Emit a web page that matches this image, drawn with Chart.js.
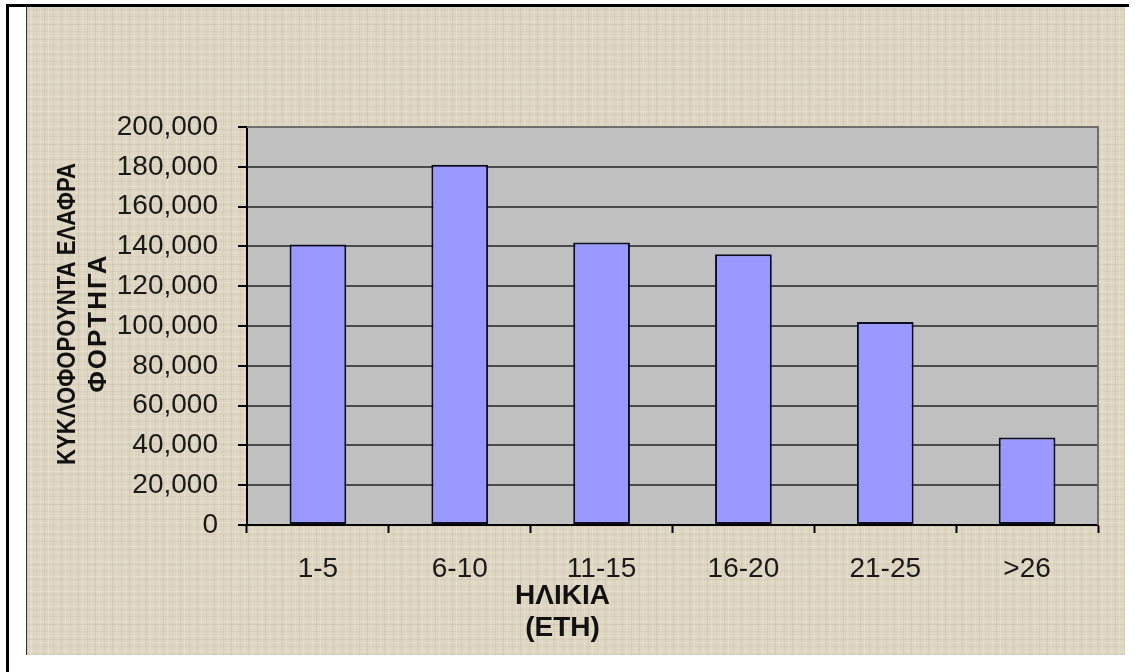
<!DOCTYPE html>
<html>
<head>
<meta charset="utf-8">
<script src="https://cdn.jsdelivr.net/npm/chart.js@4.4.1/dist/chart.umd.min.js"></script>
<style>
  html, body { margin: 0; padding: 0; background: #ffffff; width: 1135px; height: 672px; overflow: hidden; }
  #frame {
    position: absolute; left: 6px; top: 4px; width: 1120px; height: 680px;
    border-left: 3px solid #000; border-top: 3px solid #000;
  }
  #panel {
    position: absolute; left: 26px; top: 7px; width: 1098px; height: 648px;
    border-left: 1px solid #3a3232;
    background-color: #ded6c2;
    background-image:
      repeating-linear-gradient(90deg, rgba(140,125,95,0.13) 0 1px, transparent 1px 4px, rgba(255,252,240,0.20) 4px 5px, transparent 5px 9px, rgba(140,125,95,0.08) 9px 10px, transparent 10px 13px, rgba(255,252,240,0.14) 13px 14px, transparent 14px 17px),
      repeating-linear-gradient(0deg, rgba(140,125,95,0.11) 0 1px, transparent 1px 3px, rgba(255,252,240,0.20) 3px 4px, transparent 4px 8px, rgba(140,125,95,0.07) 8px 9px, transparent 9px 12px, rgba(255,252,240,0.12) 12px 13px, transparent 13px 15px);
  }
  #panel canvas { position: absolute; left: 0; top: 0; }
</style>
</head>
<body>
<div id="frame"></div>
<div id="panel"><canvas id="chart" width="1098" height="648"></canvas></div>
<script>
// Age groups of the light trucks in circulation and their counts
const ageGroups = ['1-5', '6-10', '11-15', '16-20', '21-25', '>26'];
const lightTrucks = [141000, 181000, 142000, 136000, 102000, 44000];

const xTitleLines = ['ΗΛΙΚΙΑ', '(ΕΤΗ)'];
const yTitleLines = ['ΚΥΚΛΟΦΟΡΟΥΝΤΑ ΕΛΑΦΡΑ', 'ΦΟΡΤΗΓΑ'];

const FONT = "'Liberation Sans', Arial, sans-serif";

// Grey plot background with a darker frame on its top and right edges
const plotArea = {
  id: 'plotArea',
  beforeDraw(chart) {
    const { ctx, chartArea: a } = chart;
    ctx.save();
    ctx.fillStyle = '#c0c0c0';
    ctx.fillRect(a.left, a.top, a.right - a.left, a.bottom - a.top);
    ctx.restore();
  },
  afterDraw(chart) {
    const { ctx, chartArea: a } = chart;
    ctx.save();
    ctx.strokeStyle = '#6e6e6e';
    ctx.lineWidth = 2;
    ctx.beginPath();
    ctx.moveTo(a.left, a.top);
    ctx.lineTo(a.right, a.top);
    ctx.lineTo(a.right, a.bottom);
    ctx.stroke();
    ctx.restore();
  }
};

// Two-line rotated title of the value axis: the long first line is set
// condensed, the short second line is slightly letter-spaced
const valueAxisTitle = {
  id: 'valueAxisTitle',
  afterDraw(chart) {
    const { ctx, chartArea: a } = chart;
    const midY = (a.top + a.bottom) / 2;
    const lines = [
      { text: yTitleLines[0], x: 41, dy: -12, maxWidth: 302, spacing: '0px' },
      { text: yTitleLines[1], x: 72, dy: -3, maxWidth: 400, spacing: '2px' }
    ];
    ctx.save();
    ctx.fillStyle = '#111111';
    ctx.font = 'bold 26px ' + FONT;
    ctx.textAlign = 'center';
    ctx.textBaseline = 'middle';
    lines.forEach(l => {
      ctx.save();
      ctx.translate(l.x, midY + l.dy);
      ctx.rotate(-Math.PI / 2);
      ctx.letterSpacing = l.spacing;
      ctx.fillText(l.text, 0, 0, l.maxWidth);
      ctx.restore();
    });
    ctx.restore();
  }
};

new Chart(document.getElementById('chart'), {
  type: 'bar',
  data: {
    labels: ageGroups,
    datasets: [{
      data: lightTrucks,
      backgroundColor: '#9999ff',
      borderColor: '#0d0d22',
      borderWidth: 2,
      borderSkipped: false,
      barPercentage: 0.4,
      categoryPercentage: 1.0
    }]
  },
  options: {
    responsive: false,
    devicePixelRatio: 1,
    animation: false,
    layout: { padding: { top: 120, right: 27, left: 0, bottom: 0 } },
    plugins: {
      legend: { display: false },
      tooltip: { enabled: false },
      title: {
        display: true,
        position: 'bottom',
        align: 'center',
        text: xTitleLines,
        color: '#111111',
        font: { family: FONT, size: 28, weight: 'bold', lineHeight: '32px' },
        padding: { top: 0, bottom: 11 }
      }
    },
    scales: {
      x: {
        afterFit(scale) { scale.height = 55; },
        grid: {
          offset: true,
          drawOnChartArea: false,
          drawTicks: true,
          tickLength: 8,
          tickColor: '#000000',
          tickWidth: 2
        },
        border: { display: true, color: '#000000', width: 2 },
        ticks: {
          color: '#1a1a1a',
          padding: 19,
          font: { family: FONT, size: 28 }
        }
      },
      y: {
        min: 0,
        max: 200000,
        afterFit(scale) { scale.width = 220; },
        grid: {
          color: '#4a4a4a',
          lineWidth: 2,
          drawTicks: true,
          tickLength: 9,
          tickColor: '#000000',
          tickWidth: 2
        },
        border: { display: true, color: '#000000', width: 2 },
        ticks: {
          stepSize: 20000,
          color: '#1a1a1a',
          padding: 20,
          font: { family: FONT, size: 28 },
          callback: v => v.toLocaleString('en-US')
        }
      }
    }
  },
  plugins: [plotArea, valueAxisTitle]
});
</script>
</body>
</html>
